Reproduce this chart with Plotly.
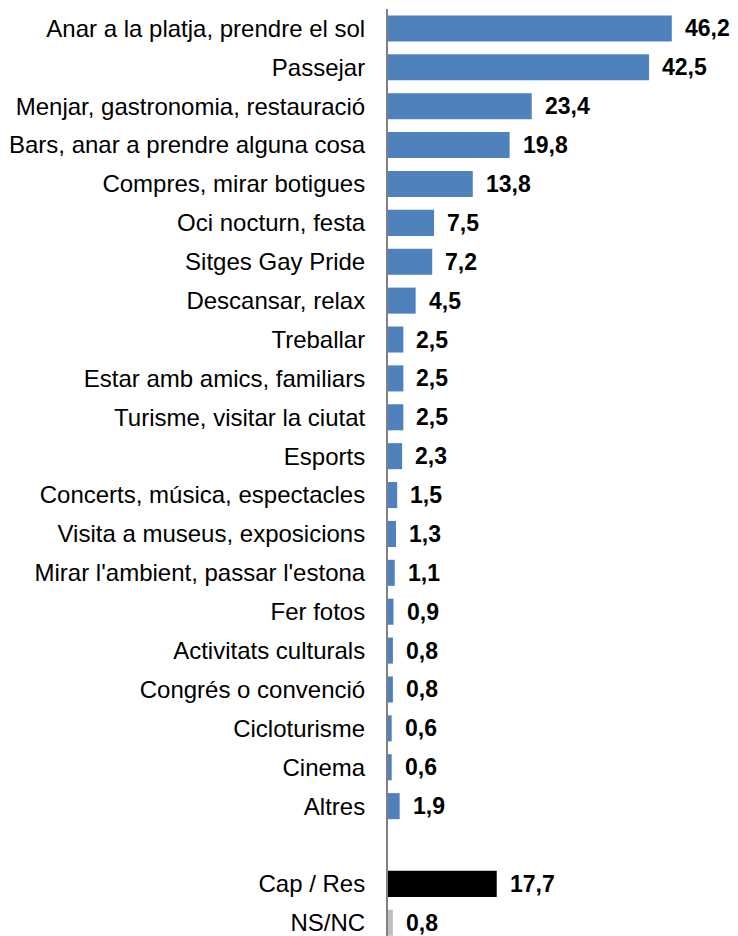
import plotly.graph_objects as go

categories = [
    "Anar a la platja, prendre el sol",
    "Passejar",
    "Menjar, gastronomia, restauració",
    "Bars, anar a prendre alguna cosa",
    "Compres, mirar botigues",
    "Oci nocturn, festa",
    "Sitges Gay Pride",
    "Descansar, relax",
    "Treballar",
    "Estar amb amics, familiars",
    "Turisme, visitar la ciutat",
    "Esports",
    "Concerts, música, espectacles",
    "Visita a museus, exposicions",
    "Mirar l'ambient, passar l'estona",
    "Fer fotos",
    "Activitats culturals",
    "Congrés o convenció",
    "Cicloturisme",
    "Cinema",
    "Altres",
]
values = [46.2, 42.5, 23.4, 19.8, 13.8, 7.5, 7.2, 4.5, 2.5, 2.5, 2.5, 2.3,
          1.5, 1.3, 1.1, 0.9, 0.8, 0.8, 0.6, 0.6, 1.9]

gap_label = " "
extra_categories = ["Cap / Res", "NS/NC"]
extra_values = [17.7, 0.8]
extra_colors = ["#000000", "#BFBFBF"]

blue = "#4F81BD"
FONT = "Liberation Sans, Arial, sans-serif"

all_cats = categories + [gap_label] + extra_categories

fig = go.Figure()
fig.add_trace(go.Bar(
    y=categories, x=values, orientation="h",
    marker=dict(color=blue, line=dict(width=0)),
    showlegend=False, hoverinfo="x+y",
))
fig.add_trace(go.Bar(
    y=extra_categories, x=extra_values, orientation="h",
    marker=dict(color=extra_colors, line=dict(width=0)),
    showlegend=False, hoverinfo="x+y",
))

def fmt(v):
    return f"{v:.1f}".replace(".", ",")

annotations = []
for c, v in list(zip(categories, values)) + list(zip(extra_categories, extra_values)):
    annotations.append(dict(
        x=v, y=c, xref="x", yref="y", text="<b>" + fmt(v) + "</b>",
        showarrow=False, xanchor="left", yanchor="middle", xshift=11,
        font=dict(family=FONT, size=23, color="#000000"),
    ))

fig.update_layout(
    width=738, height=936,
    margin=dict(l=388, r=6, t=9, b=0),
    paper_bgcolor="white", plot_bgcolor="white",
    bargap=0.33,
    barmode="overlay",
    annotations=annotations,
    font=dict(family=FONT, size=24, color="#000000"),
    xaxis=dict(range=[0, 56], showgrid=False, zeroline=False, showline=False,
               showticklabels=False, ticks="", fixedrange=True),
    yaxis=dict(type="category", categoryorder="array", categoryarray=all_cats,
               range=[23.34, -0.5], showgrid=False, zeroline=False,
               showline=True, linecolor="#808080", linewidth=2,
               ticks="", ticklabelstandoff=16,
               tickfont=dict(family=FONT, size=24, color="#000000")),
)

fig.write_html(
    "out.html",
    config={"displayModeBar": False},
    post_script="document.body.style.margin='0';document.body.style.overflow='hidden';",
)
